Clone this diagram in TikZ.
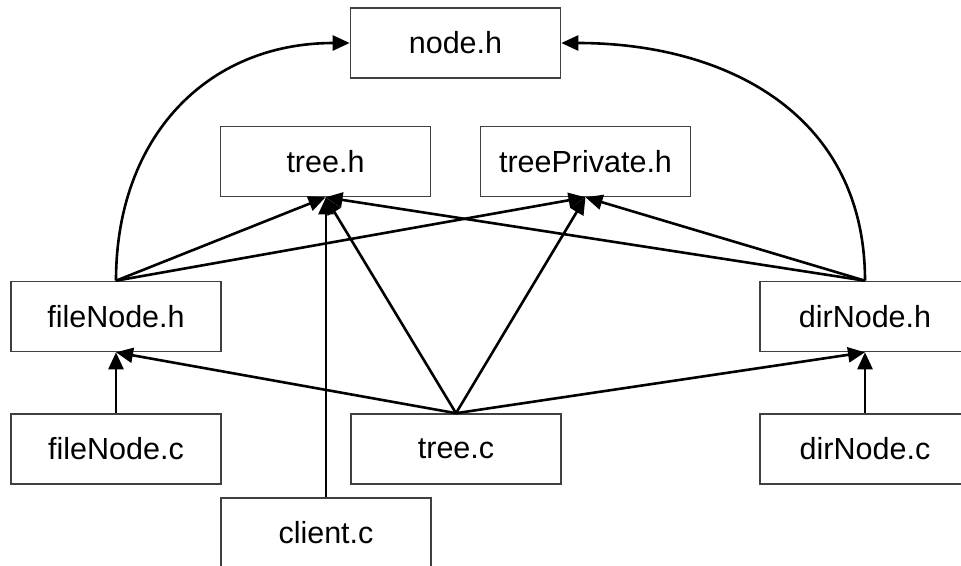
\documentclass[tikz,border=0pt]{standalone}
\usepackage{fontspec}
\setmainfont{Liberation Sans}
\usetikzlibrary{arrows.meta}
\begin{document}
\begin{tikzpicture}[x=1pt,y=-1pt,
    file/.style={draw=black!75,line width=1.6pt,minimum width=210pt,minimum height=70pt,
      inner sep=0pt,font=\fontsize{30.5}{36}\selectfont},
    dep/.style={line width=2.6pt,-{Triangle[length=17pt,width=15pt]}}]
        \useasboundingbox (0,0) rectangle (961,565);
        \node[file] (nodeH) at (455.5,43) {node.h};
        \node[file] (treeH) at (325.5,161.5) {tree.h};
        \node[file] (treePrivH) at (585.5,161.5) {treePrivate.h};
        \node[file] (fileNodeH) at (116,316.5) {fileNode.h};
        \node[file] (dirNodeH) at (865,316.5) {dirNode.h};
        \node[file] (fileNodeC) at (116,449) {fileNode.c};
        \node[file] (treeC) at (456,449) {tree.c};
        \node[file] (dirNodeC) at (865,449) {dirNode.c};
        \node[file] (clientC) at (326,533) {client.c};
        \draw[dep] (fileNodeH.north) to[out=90,in=180,looseness=1.1] (nodeH.west);
        \draw[dep] (dirNodeH.north) to[out=90,in=0,looseness=1.1] (nodeH.east);
        \draw[dep] (fileNodeH.north) -- (treeH.south);
        \draw[dep] (fileNodeH.north) -- (treePrivH.south);
        \draw[dep] (dirNodeH.north) -- (treeH.south);
        \draw[dep] (dirNodeH.north) -- (treePrivH.south);
        \draw[dep] (clientC.north) -- (clientC.north |- treeH.south);
        \draw[dep] (treeC.north) -- (treeH.south);
        \draw[dep] (treeC.north) -- (treePrivH.south);
        \draw[dep] (treeC.north) -- (fileNodeH.south);
        \draw[dep] (treeC.north) -- (dirNodeH.south);
        \draw[dep] (fileNodeC.north) -- (fileNodeH.south);
        \draw[dep] (dirNodeC.north) -- (dirNodeH.south);
      \end{tikzpicture}
\end{document}
